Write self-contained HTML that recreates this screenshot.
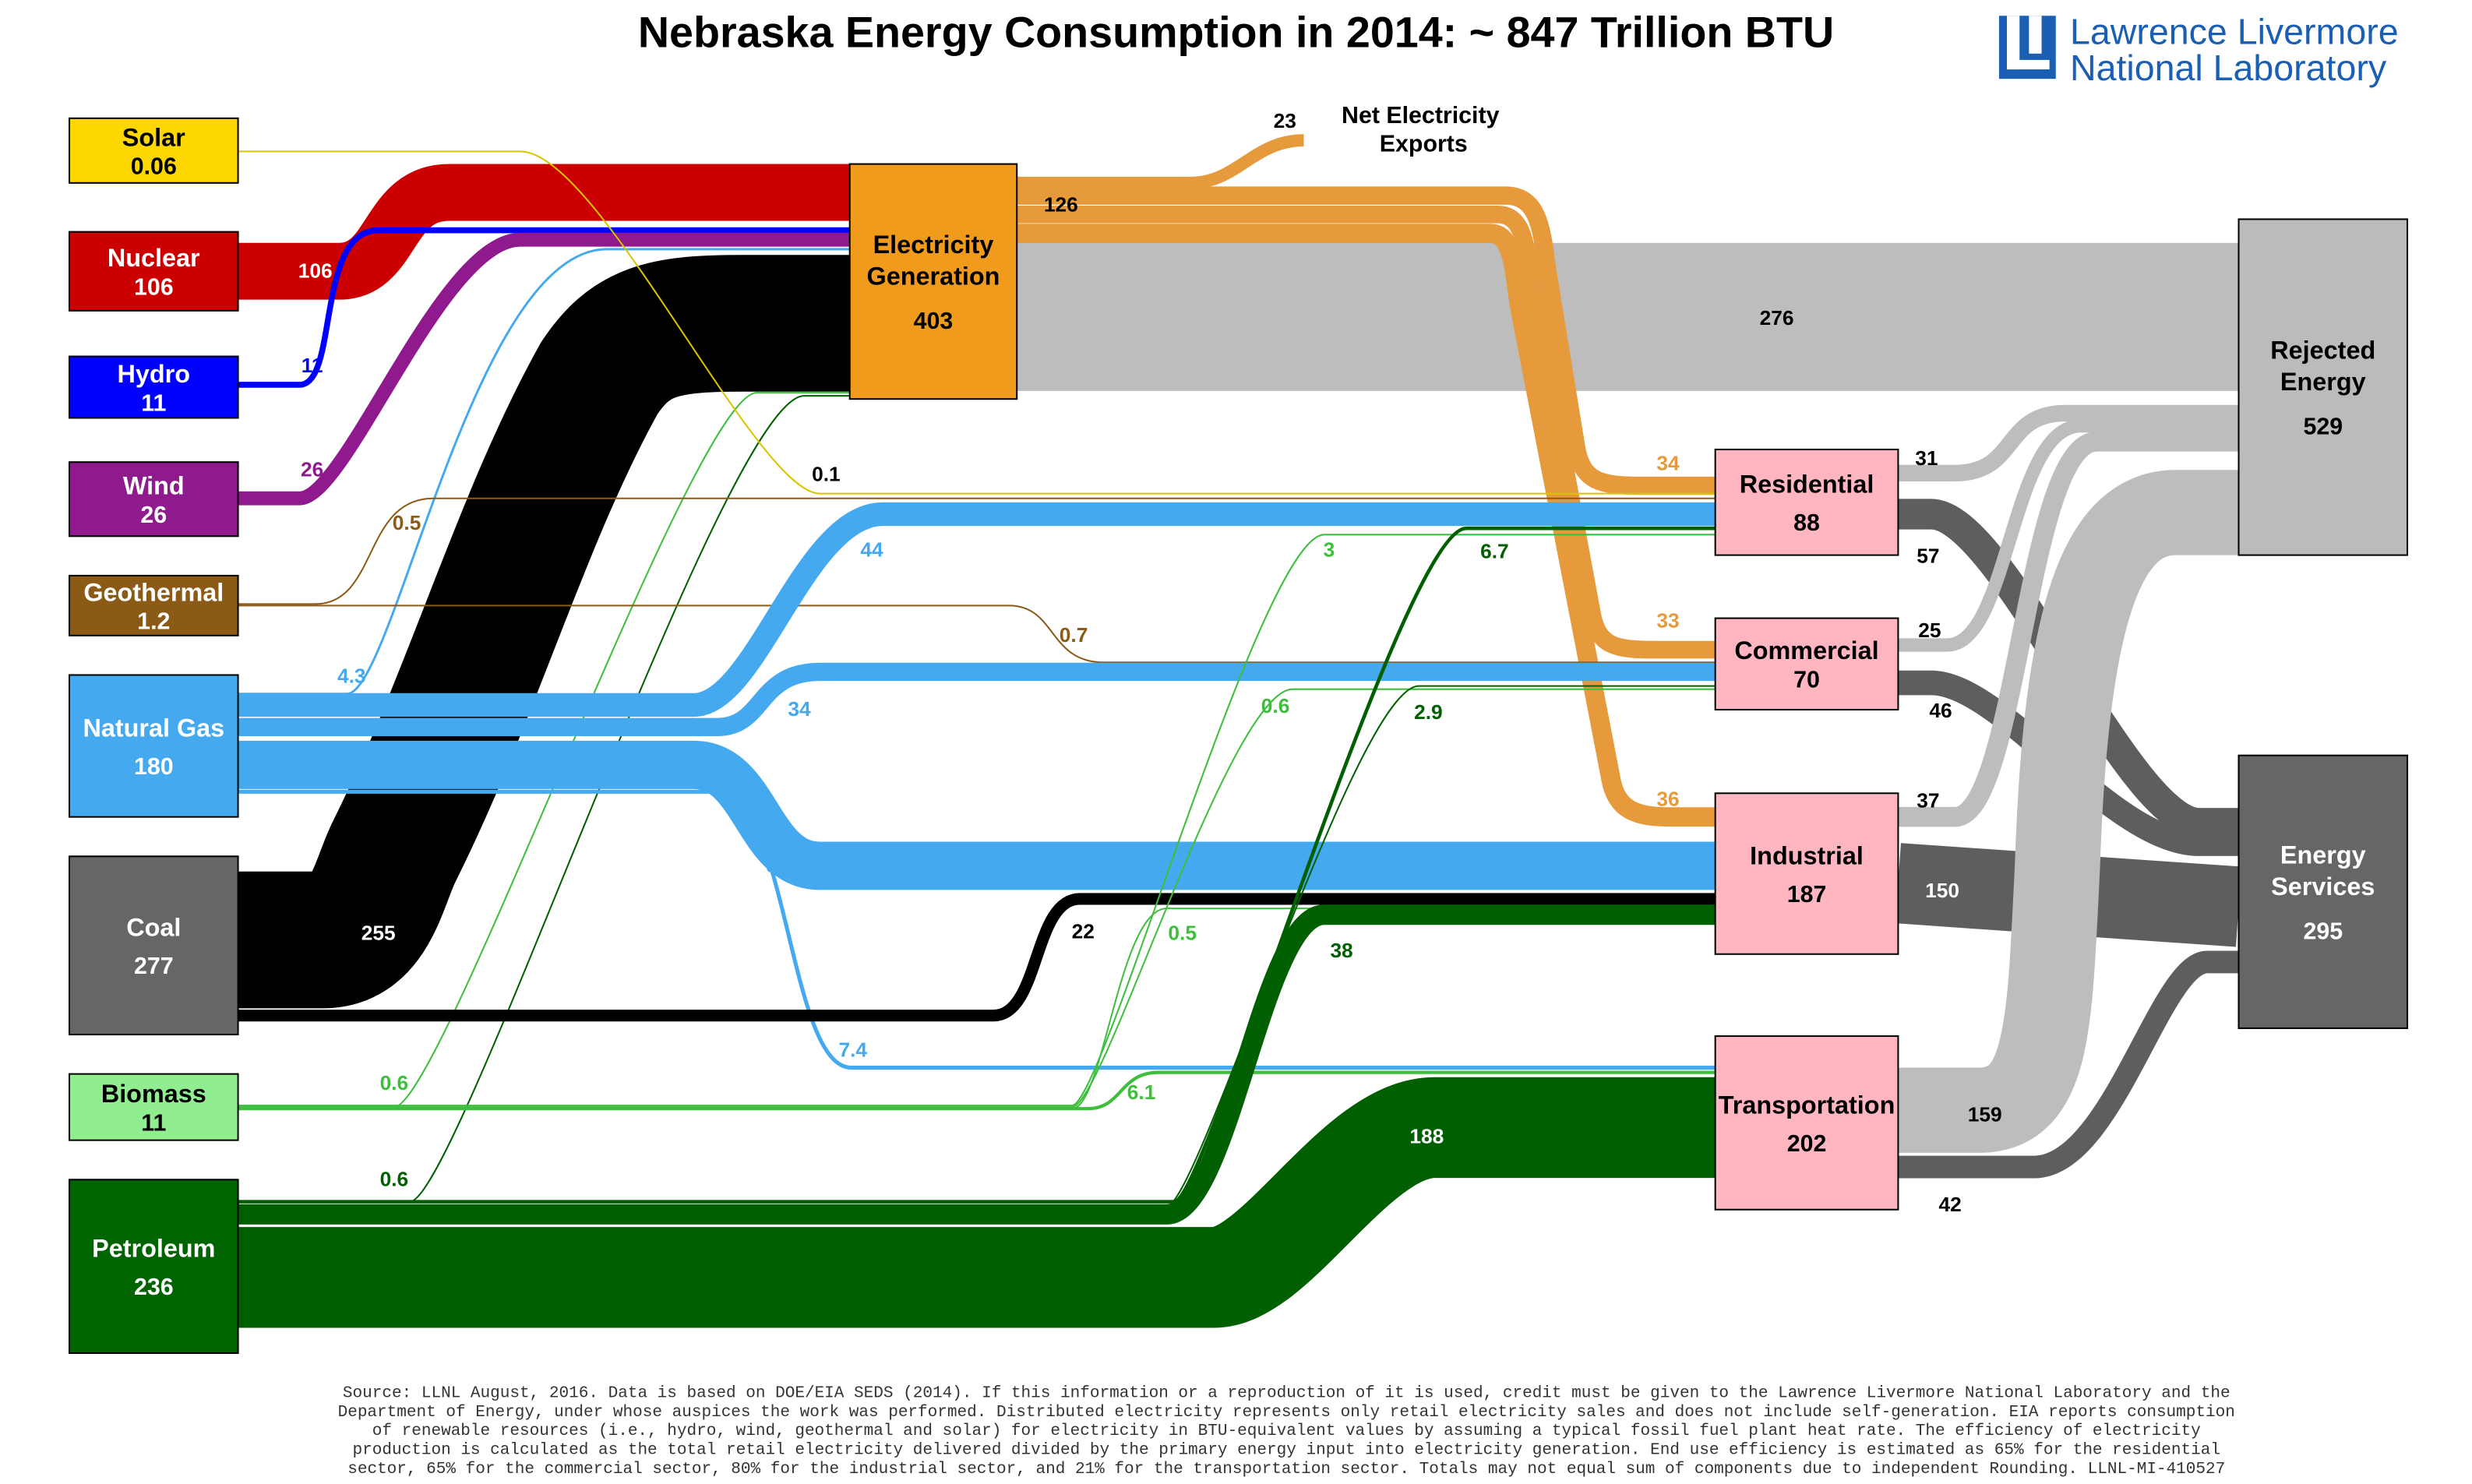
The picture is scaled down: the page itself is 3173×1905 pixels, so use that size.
<!DOCTYPE html>
<html><head><meta charset="utf-8"><style>
html,body{margin:0;padding:0;background:#fff;}
svg{display:block;font-family:"Liberation Sans",Arial,sans-serif;}
</style></head><body>
<svg id="chart" width="3173" height="1905" viewBox="0 0 1568 941" preserveAspectRatio="none" xmlns="http://www.w3.org/2000/svg">
<rect x="0" y="0" width="1568" height="941" fill="#fff"/>
<text x="784" y="30" text-anchor="middle" font-size="27.5" font-weight="bold" fill="#000">Nebraska Energy Consumption in 2014: ~ 847 Trillion BTU</text>
<g>
<rect x="1268" y="10" width="36" height="40" fill="#1a5fb4"/>
<rect x="1273" y="10" width="8" height="34" fill="#fff"/>
<rect x="1273" y="38" width="27" height="6" fill="#fff"/>
<rect x="1287" y="10" width="8" height="24" fill="#fff"/>
<text x="1313" y="28" font-size="23" fill="#1a5fb4">Lawrence Livermore</text>
<text x="1313" y="51" font-size="23" fill="#1a5fb4">National Laboratory</text>
</g>
<g id="flows"></g>
<g id="nodes"></g>
<g id="labels"></g>
<text x="673" y="134" text-anchor="middle" font-size="13" font-weight="bold" fill="#000">126</text>
<g font-family="'Liberation Mono',monospace" font-size="10.4" fill="#333" text-anchor="middle">
<text x="816" y="886">Source: LLNL August, 2016. Data is based on DOE/EIA SEDS (2014). If this information or a reproduction of it is used, credit must be given to the Lawrence Livermore National Laboratory and the</text>
<text x="816" y="898">Department of Energy, under whose auspices the work was performed. Distributed electricity represents only retail electricity sales and does not include self-generation.  EIA reports consumption</text>
<text x="816" y="910">of renewable resources (i.e., hydro, wind, geothermal and solar) for electricity in BTU-equivalent values by assuming a typical fossil fuel plant heat rate.  The efficiency of electricity</text>
<text x="816" y="922">production is calculated as the total retail electricity delivered divided by the primary energy input into electricity generation.  End use efficiency is estimated as 65% for the residential</text>
<text x="816" y="934">sector, 65% for the commercial sector, 80% for the industrial sector, and 21% for the transportation sector.  Totals may not equal sum of components due to independent Rounding. LLNL-MI-410527</text>
</g>
</svg>
<script>
// ---- data ----
const nodeNames = ["Solar","Nuclear","Hydro","Wind","Geothermal","Natural Gas","Coal","Biomass","Petroleum","Electricity Generation","Residential","Commercial","Industrial","Transportation","Rejected Energy","Energy Services"];
const nodeValues = ["0.06","106","11","26","1.2","180","277","11","236","403","88","70","187","202","529","295"];
const flowLabels = ["276","23","34","33","36","106","11","26","4.3","255","0.6","0.6","0.1","0.5","0.7","44","34","90","7.4","22","3","0.6","0.5","6.1","6.7","2.9","38","188","31","57","25","46","37","150","159","42"];
const flowValues = [276,23,34,33,36,106,11,26,4.3,255,0.6,0.6,0.06,0.5,0.7,44,34,90,7.4,22,3,0.6,0.5,6.1,6.7,2.9,38,188,31,57,25,46,37,150,159,42];

// ---- layout (geometry only) ----
const K = 0.34;
const w = v => Math.max(1, v * K);
const NS="http://www.w3.org/2000/svg";
const nodeBoxes = [[44,75,107,41,"#FFD700","#000"],[44,147,107,50,"#CC0000","#fff"],[44,226,107,39,"#0000FF","#fff"],[44,293,107,47,"#8E1A8E","#fff"],[44,365,107,38,"#8B5A17","#fff"],[44,428,107,90,"#45A9F0","#fff"],[44,543,107,113,"#666666","#fff"],[44,681,107,42,"#90EE90","#000"],[44,748,107,110,"#006400","#fff"],[539,104,106,149,"#F09B1C","#000"],[1088,285,116,67,"#FFB6C1","#000"],[1088,392,116,58,"#FFB6C1","#000"],[1088,503,116,102,"#FFB6C1","#000"],[1088,657,116,110,"#FFB6C1","#000"],[1420,139,107,213,"#BBBBBB","#000"],[1420,479,107,173,"#666666","#fff"]];
const LG="#BDBDBD", DG="#5E5E5E", OR="#E69A3B", NG="#45A9F0", PG="#005F00", BG="#3DBE3D";
const routes = [
 [LG,"M645,201 L1420,201",1127,206,"#000"],
 [OR,"M645,116 L755,116 C785,116 795,89 827,89",815,81,"#000"],
 [OR,"M645,124 L955,124 C978,124 978,150 982,175 L1000,285 C1004,305 1015,308 1040,308 L1088,308",1058,298,OR],
 [OR,"M645,136 L950,136 C968,136 968,160 972,185 L1010,390 C1014,410 1025,412 1050,412 L1088,412",1058,398,OR],
 [OR,"M645,148 L945,148 C960,148 960,170 964,195 L1022,495 C1026,515 1040,518 1060,518 L1088,518",1058,511,OR],
 ["#CC0000","M151,172 L215,172 C250,172 245,122 285,122 L539,122",200,176,"#fff"],
 ["#0000FF","M151,244 L190,244 C215,244 200,146 240,146 L539,146",198,236,"#0000FF"],
 ["#8E1A8E","M151,316 L190,316 C220,316 280,152 330,152 L539,152",198,302,"#8E1A8E"],
 [NG,"M151,440 L220,440 C250,440 300,158 385,158 L539,158",223,433,NG],
 ["#000","M151,596 L205,596 C235,596 240,560 250,540 C300,440 330,330 380,240 C400,210 420,205 470,205 L539,205",240,596,"#fff"],
 [BG,"M151,702 L250,702 C280,702 440,249 480,249 L539,249",250,691,BG],
 [PG,"M151,762 L260,762 C290,762 460,251 510,251 L539,251",250,752,PG],
 ["#D9C400","M151,96 L330,96 C380,96 480,313 520,313 L1088,313",524,305,"#000"],
 ["#8B5A17","M151,383 L200,383 C240,383 230,316 275,316 L1088,316",258,336,"#8B5A17"],
 ["#8B5A17","M151,384 L640,384 C670,384 665,420 700,420 L1088,420",681,407,"#8B5A17"],
 [NG,"M151,447 L440,447 C480,447 510,326 560,326 L1088,326",553,353,NG],
 [NG,"M151,461 L455,461 C485,461 480,426 520,426 L1088,426",507,454,NG],
 [NG,"M151,485 L440,485 C480,485 480,549 520,549 L1088,549",493,553,NG],
 [NG,"M151,502 L455,502 C500,502 500,677 540,677 L1088,677",541,670,NG],
 ["#000","M151,644 L630,644 C660,644 655,570 685,570 L1088,570",687,595,"#000"],
 [BG,"M151,701 L680,701 C700,701 800,339 840,339 L1088,339",843,353,BG],
 [BG,"M151,702 L680,702 C700,702 780,437 820,437 L1088,437",809,452,BG],
 [BG,"M151,703 L680,703 C700,703 710,576 740,576 L1088,576",750,596,BG],
 [BG,"M151,703 L690,703 C712,703 710,680 735,680 L1088,680",724,697,BG],
 [PG,"M151,762 L745,762 C765,762 890,335 930,335 L1088,335",948,354,PG],
 [PG,"M151,765 L740,765 C760,765 860,435 900,435 L1088,435",906,456,PG],
 [PG,"M151,770 L740,770 C780,770 800,580 840,580 L1088,580",851,607,PG],
 [PG,"M151,810 L770,810 C810,810 860,715 910,715 L1088,715",905,725,"#fff"],
 [LG,"M1204,300 L1240,300 C1280,300 1270,262 1310,262 L1420,262",1222,295,"#000"],
 [DG,"M1204,326 L1225,326 C1270,326 1350,522 1395,522 L1420,522",1223,357,"#000"],
 [LG,"M1204,409 L1235,409 C1275,409 1275,270 1320,270 L1420,270",1224,404,"#000"],
 [DG,"M1204,433 L1225,433 C1270,433 1340,535 1395,535 L1420,535",1231,455,"#000"],
 [LG,"M1204,518 L1240,518 C1280,518 1285,280 1330,280 L1420,280",1223,512,"#000"],
 [DG,"M1204,560 L1420,575",1232,569,"#fff"],
 [LG,"M1204,704 L1255,704 C1300,704 1300,650 1305,550 C1310,400 1330,325 1380,325 L1420,325",1259,711,"#000"],
 [DG,"M1204,740 L1290,740 C1340,740 1370,610 1400,610 L1420,610",1237,768,"#000"]
];
const flowG=document.getElementById('flows'), labG=document.getElementById('labels'), nodeG=document.getElementById('nodes');
flowValues.forEach((v,i)=>{
  const r=routes[i];
  const p=document.createElementNS(NS,'path');
  p.setAttribute('d',r[1]);p.setAttribute('fill','none');p.setAttribute('stroke',r[0]);
  p.setAttribute('stroke-width',w(v));
  
  
  flowG.appendChild(p);
  const t=document.createElementNS(NS,'text');
  t.setAttribute('x',r[2]);t.setAttribute('y',r[3]);t.setAttribute('text-anchor','middle');
  t.setAttribute('font-size','13');t.setAttribute('font-weight','bold');t.setAttribute('fill',r[4]);
  t.textContent=flowLabels[i];
  
  
  labG.appendChild(t);
});
nodeNames.forEach((n,i)=>{
  const b=nodeBoxes[i];
  const g=document.createElementNS(NS,'g');
  
  
  const r=document.createElementNS(NS,'rect');
  r.setAttribute('x',b[0]);r.setAttribute('y',b[1]);r.setAttribute('width',b[2]);r.setAttribute('height',b[3]);
  r.setAttribute('fill',b[4]);r.setAttribute('stroke','#000');r.setAttribute('stroke-width','1');
  g.appendChild(r);
  let lines=[n];
  if(n==="Electricity Generation") lines=["Electricity","Generation"];
  if(n==="Rejected Energy") lines=["Rejected","Energy"];
  if(n==="Energy Services") lines=["Energy","Services"];
  const cx=b[0]+b[2]/2, cy=b[1]+b[3]/2;
  const total=lines.length+1, lh=(b[3]<60)?18:(lines.length>1?20:24);
  let y0=cy-(total-1)*lh/2+6;
  if(lines.length>1) y0-=4;
  lines.forEach((s,j)=>{
    const t=document.createElementNS(NS,'text');
    t.setAttribute('x',cx);t.setAttribute('y',y0+j*lh);t.setAttribute('text-anchor','middle');
    t.setAttribute('font-size','16');t.setAttribute('font-weight','bold');t.setAttribute('fill',b[5]);
    t.textContent=s;g.appendChild(t);
  });
  const t=document.createElementNS(NS,'text');
  t.setAttribute('x',cx);t.setAttribute('y',y0+lines.length*lh+(lines.length>1?8:0));t.setAttribute('text-anchor','middle');
  t.setAttribute('font-size','15');t.setAttribute('font-weight','bold');t.setAttribute('fill',b[5]);
  t.textContent=nodeValues[i];g.appendChild(t);
  nodeG.appendChild(g);
});
const ex=document.createElementNS(NS,'text');
ex.setAttribute('x','901');ex.setAttribute('y','78');ex.setAttribute('text-anchor','middle');
ex.setAttribute('font-size','15');ex.setAttribute('font-weight','bold');
ex.innerHTML='<tspan x="901" dy="0">Net Electricity</tspan><tspan x="903" dy="18">Exports</tspan>';


labG.appendChild(ex);
</script>
</body></html>
